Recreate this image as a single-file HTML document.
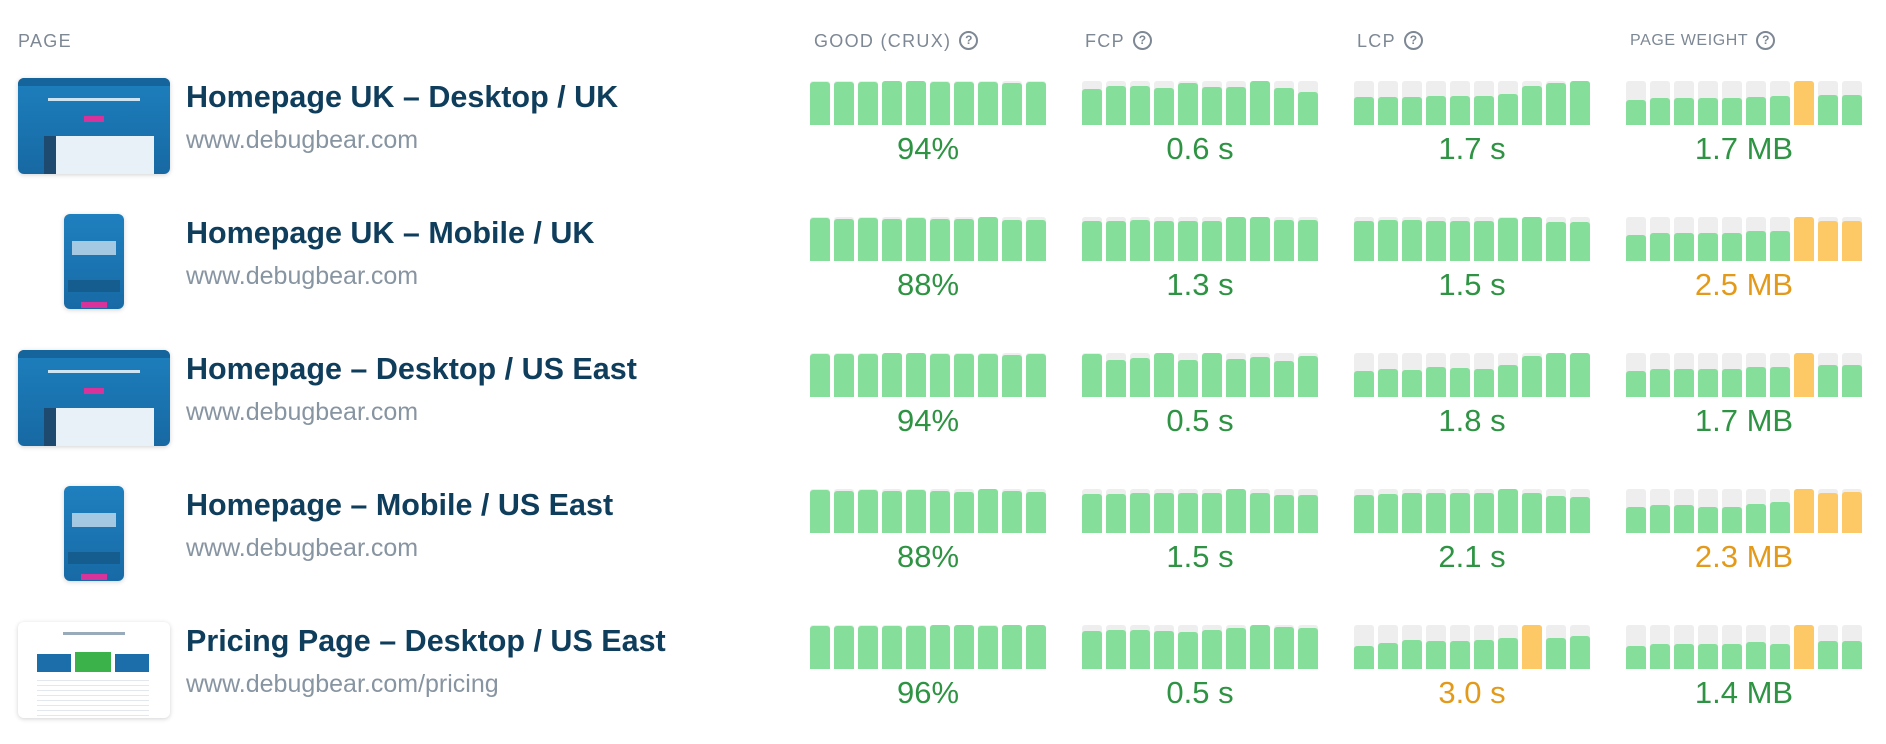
<!DOCTYPE html>
<html><head><meta charset="utf-8">
<style>
*{margin:0;padding:0;box-sizing:border-box}
body{width:1886px;height:744px;background:#fff;position:relative;overflow:hidden;font-family:"Liberation Sans",Arial,sans-serif}
.h{position:absolute;top:30px;font-size:18px;color:#7d8894;letter-spacing:1.3px;white-space:nowrap;line-height:22px}
.q{display:inline-block;width:19px;height:19px;border:2px solid #7d8894;border-radius:50%;font-size:12px;font-weight:bold;text-align:center;line-height:15px;letter-spacing:0;vertical-align:top;margin-left:8px;margin-top:1px}
.t{position:absolute;left:186px;font-size:30.5px;font-weight:bold;color:#0f3d5c;white-space:nowrap;line-height:34px}
.u{position:absolute;left:186px;font-size:25px;color:#8794a1;white-space:nowrap;line-height:28px}
.v{position:absolute;width:236px;text-align:center;font-size:31px;color:#2e9443;line-height:34px}
.o{color:#e39a1a}
.g{position:absolute;width:236px;height:44px}
.b{position:absolute;bottom:0;width:20px;height:44px;background:#eeeeee;border-radius:3px 3px 0 0}
.f{position:absolute;bottom:0;left:0;width:20px;background:#86de9b;border-radius:3px 3px 0 0}
.f.y{background:#fdc866}
.th{position:absolute;border-radius:6px;overflow:hidden;box-shadow:0 1px 5px rgba(0,0,0,.18)}
.dk{left:18px;width:152px;height:96px;background:linear-gradient(#1d7fbd,#1769a3)}
.mb{left:64px;width:60px;height:95px;background:linear-gradient(#1f80bf,#176aa5)}
.pr{left:18px;width:152px;height:96px;background:#fff}
</style></head><body>
<div class="h" style="left:18px">PAGE</div>
<div class="h" style="left:814px">GOOD (CRUX)<span class="q">?</span></div>
<div class="h" style="left:1085px">FCP<span class="q">?</span></div>
<div class="h" style="left:1357px">LCP<span class="q">?</span></div>
<div class="h" style="left:1630px;font-size:16px;letter-spacing:0.6px">PAGE WEIGHT<span class="q">?</span></div>

<div class="th dk" style="top:78px"><div style="position:absolute;left:0;top:0;width:152px;height:8px;background:#15649c"></div><div style="position:absolute;left:30px;top:20px;width:92px;height:3px;background:#cfe4f3"></div><div style="position:absolute;left:66px;top:38px;width:20px;height:6px;background:#d8339a"></div><div style="position:absolute;left:26px;top:58px;width:110px;height:38px;background:#e8f1f8"></div><div style="position:absolute;left:26px;top:58px;width:12px;height:38px;background:#1d4a6e"></div></div>
<div class="th mb" style="top:214px"><div style="position:absolute;left:8px;top:27px;width:44px;height:14px;background:rgba(255,255,255,.6)"></div><div style="position:absolute;left:17px;top:88px;width:26px;height:6px;background:#d8339a"></div><div style="position:absolute;left:4px;top:66px;width:52px;height:12px;background:#155d8f"></div></div>
<div class="th dk" style="top:350px"><div style="position:absolute;left:0;top:0;width:152px;height:8px;background:#15649c"></div><div style="position:absolute;left:30px;top:20px;width:92px;height:3px;background:#cfe4f3"></div><div style="position:absolute;left:66px;top:38px;width:20px;height:6px;background:#d8339a"></div><div style="position:absolute;left:26px;top:58px;width:110px;height:38px;background:#e8f1f8"></div><div style="position:absolute;left:26px;top:58px;width:12px;height:38px;background:#1d4a6e"></div></div>
<div class="th mb" style="top:486px"><div style="position:absolute;left:8px;top:27px;width:44px;height:14px;background:rgba(255,255,255,.6)"></div><div style="position:absolute;left:17px;top:88px;width:26px;height:6px;background:#d8339a"></div><div style="position:absolute;left:4px;top:66px;width:52px;height:12px;background:#155d8f"></div></div>
<div class="th pr" style="top:622px"><div style="position:absolute;left:45px;top:10px;width:62px;height:3px;background:#9ab"></div><div style="position:absolute;left:19px;top:32px;width:34px;height:18px;background:#1b6eaa"></div><div style="position:absolute;left:57px;top:30px;width:36px;height:20px;background:#3cb24a"></div><div style="position:absolute;left:97px;top:32px;width:34px;height:18px;background:#1b6eaa"></div><div style="position:absolute;left:19px;top:54px;width:112px;height:40px;background:repeating-linear-gradient(#fff 0 4px,#e3e8ee 4px 5px)"></div></div>

<div class="t" style="top:80px">Homepage UK – Desktop / UK</div>
<div class="u" style="top:126px">www.debugbear.com</div>
<div class="t" style="top:216px">Homepage UK – Mobile / UK</div>
<div class="u" style="top:262px">www.debugbear.com</div>
<div class="t" style="top:352px">Homepage – Desktop / US East</div>
<div class="u" style="top:398px">www.debugbear.com</div>
<div class="t" style="top:488px">Homepage – Mobile / US East</div>
<div class="u" style="top:534px">www.debugbear.com</div>
<div class="t" style="top:624px">Pricing Page – Desktop / US East</div>
<div class="u" style="top:670px">www.debugbear.com/pricing</div>

<div class="v" style="left:810px;top:132px">94%</div><div class="v" style="left:1082px;top:132px">0.6 s</div><div class="v" style="left:1354px;top:132px">1.7 s</div><div class="v" style="left:1626px;top:132px">1.7 MB</div>
<div class="v" style="left:810px;top:268px">88%</div><div class="v" style="left:1082px;top:268px">1.3 s</div><div class="v" style="left:1354px;top:268px">1.5 s</div><div class="v o" style="left:1626px;top:268px">2.5 MB</div>
<div class="v" style="left:810px;top:404px">94%</div><div class="v" style="left:1082px;top:404px">0.5 s</div><div class="v" style="left:1354px;top:404px">1.8 s</div><div class="v" style="left:1626px;top:404px">1.7 MB</div>
<div class="v" style="left:810px;top:540px">88%</div><div class="v" style="left:1082px;top:540px">1.5 s</div><div class="v" style="left:1354px;top:540px">2.1 s</div><div class="v o" style="left:1626px;top:540px">2.3 MB</div>
<div class="v" style="left:810px;top:676px">96%</div><div class="v" style="left:1082px;top:676px">0.5 s</div><div class="v o" style="left:1354px;top:676px">3.0 s</div><div class="v" style="left:1626px;top:676px">1.4 MB</div>

<div id="bars"></div>
<script>
var D=[
[[.98,.98,.98,1,1,.98,.98,.98,.96,.98],[.83,.89,.89,.84,.95,.86,.86,1,.84,.75],[.64,.64,.64,.66,.66,.66,.70,.89,.95,1],[.57,.61,.61,.61,.61,.64,.66,-1,.68,.68]],
[[.98,.95,.98,.95,.98,.95,.95,1,.93,.93],[.91,.91,.93,.91,.91,.91,1,1,.93,.93],[.91,.93,.93,.91,.91,.91,.98,1,.89,.89],[.59,.64,.64,.64,.64,.68,.68,-1,-.91,-.91]],
[[.98,.98,.98,1,1,.98,.98,.98,.95,.98],[.98,.84,.89,1,.84,1,.86,.91,.82,.93],[.59,.64,.61,.68,.66,.64,.73,.93,1,1],[.59,.64,.64,.64,.64,.68,.68,-1,.73,.73]],
[[.98,.95,.98,.95,.98,.95,.93,1,.95,.93],[.89,.89,.91,.91,.91,.91,1,.91,.86,.86],[.86,.89,.91,.91,.91,.91,1,.91,.84,.82],[.59,.64,.64,.59,.59,.66,.70,-1,-.91,-.93]],
[[.98,.98,.98,.98,.98,1,1,.98,1,1],[.86,.89,.89,.86,.84,.89,.93,1,.95,.93],[.52,.59,.66,.64,.64,.66,.70,-1,.70,.75],[.52,.57,.57,.57,.57,.61,.57,-1,.64,.64]]];
var X=[810,1082,1354,1626],h='';
for(var r=0;r<5;r++)for(var c=0;c<4;c++){h+='<div class="g" style="left:'+X[c]+'px;top:'+(81+136*r)+'px">';
for(var i=0;i<10;i++){var v=D[r][c][i],y=v<0;v=Math.abs(v);
h+='<div class="b" style="left:'+(i*24)+'px"><div class="f'+(y?' y':'')+'" style="height:'+(v*44).toFixed(1)+'px"></div></div>';}
h+='</div>';}
document.getElementById('bars').innerHTML=h;
</script>
</body></html>
